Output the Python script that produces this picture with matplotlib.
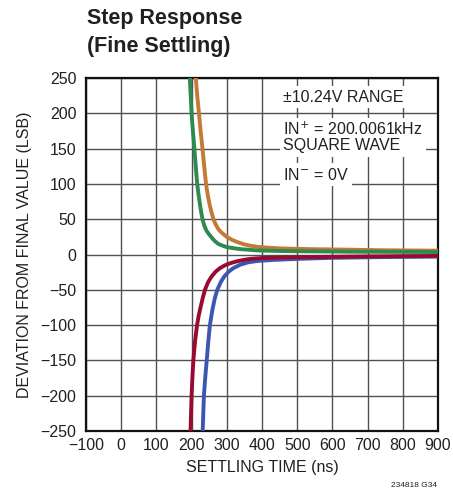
import matplotlib
matplotlib.use("Agg")
import matplotlib.pyplot as plt

plt.rcParams['font.family'] = ['Liberation Sans', 'DejaVu Sans']

# Settling traces (time in ns, deviation in LSB)
green_t = [188, 192, 195, 197.5, 200, 204, 208, 212, 216, 220, 224, 228, 231, 236, 242,
           249, 257, 266, 276, 288, 300, 320, 340, 356, 380, 400, 450, 500, 650, 900]
green_v = [330, 285, 250, 225, 200, 173, 150, 123, 100, 84, 70, 58, 50, 41, 34,
           29, 24, 19, 15, 12.5, 10.5, 8.8, 7.6, 7, 6, 5.5, 5, 4.6, 4.0, 3.5]

orange_t = [207, 212, 216, 221, 226, 231, 236, 241, 246, 251, 256, 262, 269, 276, 283,
            290, 300, 314, 328, 345, 366, 385, 420, 450, 500, 550, 650, 750, 900]
orange_v = [315, 250, 225, 200, 173, 150, 124, 100, 84, 71, 61, 50, 42, 36, 32,
            29, 25, 21, 18, 15, 12.5, 11, 9.5, 8.7, 8, 7.5, 6.8, 6.0, 5.4]

red_t = [194, 197, 200, 202.5, 205, 210, 215.5, 220, 224, 231, 238, 247, 257, 268, 280,
         294, 309, 330, 350, 371, 400, 450, 550, 700, 900]
red_v = [-320, -250, -200, -173, -150, -122, -100, -87, -78, -63, -50, -39, -31, -24.5, -19.5,
         -15.5, -12.5, -9.5, -7.5, -6, -5, -4.3, -3.5, -2.7, -2.0]

blue_t = [228, 231.5, 235, 239, 243, 247.5, 252, 259, 266, 273, 283, 293, 305, 318, 338,
          361, 390, 432, 500, 600, 750, 900]
blue_v = [-320, -250, -200, -173, -150, -123, -100, -78.6, -62, -50, -39, -31, -24.5, -19.5, -14.5,
          -11, -9, -7.7, -6.2, -4.7, -3.6, -3.0]

x_ticks = [-100, 0, 100, 200, 300, 400, 500, 600, 700, 800, 900]
y_ticks = [-250, -200, -150, -100, -50, 0, 50, 100, 150, 200, 250]

ink = '#231f20'
fs = 11.5

fig = plt.figure(figsize=(4.53, 4.95), dpi=100)
ax = fig.add_axes([0.1898, 0.1293, 0.7771, 0.7131])

lw = 2.8
ax.plot(blue_t, blue_v, color='#3c57b2', lw=lw, zorder=3)
ax.plot(orange_t, orange_v, color='#c47a35', lw=lw, zorder=4)
ax.plot(green_t, green_v, color='#2e8a4f', lw=lw, zorder=5)
ax.plot(red_t, red_v, color='#9a0a30', lw=lw, zorder=6)

ax.set_xlim(-100, 900)
ax.set_ylim(-250, 250)
ax.set_xticks(x_ticks)
ax.set_yticks(y_ticks)
ax.set_xticklabels([str(v).replace('-', '\u2212') for v in x_ticks])
ax.set_yticklabels([str(v).replace('-', '\u2212') for v in y_ticks])
ax.tick_params(length=0, labelsize=fs, colors=ink)
ax.tick_params(axis='x', pad=5)
ax.tick_params(axis='y', pad=7)
ax.grid(True, color='#505050', lw=1.0, zorder=1)
ax.set_axisbelow(True)
for s in ax.spines.values():
    s.set_linewidth(1.6)
    s.set_color('#111111')

ax.set_xlabel('SETTLING TIME (ns)', fontsize=fs, color=ink, labelpad=5)
ax.set_ylabel('DEVIATION FROM FINAL VALUE (LSB)', fontsize=fs, color=ink, labelpad=6)

box = dict(facecolor='white', edgecolor='none', pad=2.5)
ax.text(460, 223, '\u00b110.24V RANGE', fontsize=fs, va='center', ha='left',
        color=ink, bbox=box, zorder=7)
ax.text(460, 166, 'IN$^{+}$ = 200.0061kHz\nSQUARE WAVE', fontsize=fs, va='center',
        ha='left', color=ink, bbox=box, zorder=7, linespacing=1.0)
ax.text(460, 113, 'IN$^{-}$ = 0V', fontsize=fs, va='center', ha='left',
        color=ink, bbox=box, zorder=7)

fig.text(0.192, 0.962, 'Step Response', fontsize=15.5, fontweight='bold',
         va='center', ha='left', color=ink)
fig.text(0.192, 0.907, '(Fine Settling)', fontsize=15.5, fontweight='bold',
         va='center', ha='left', color=ink)
fig.text(0.965, 0.012, '234818 G34', fontsize=6, ha='right', va='bottom',
         color=ink)

fig.savefig('out.png', dpi=100)
